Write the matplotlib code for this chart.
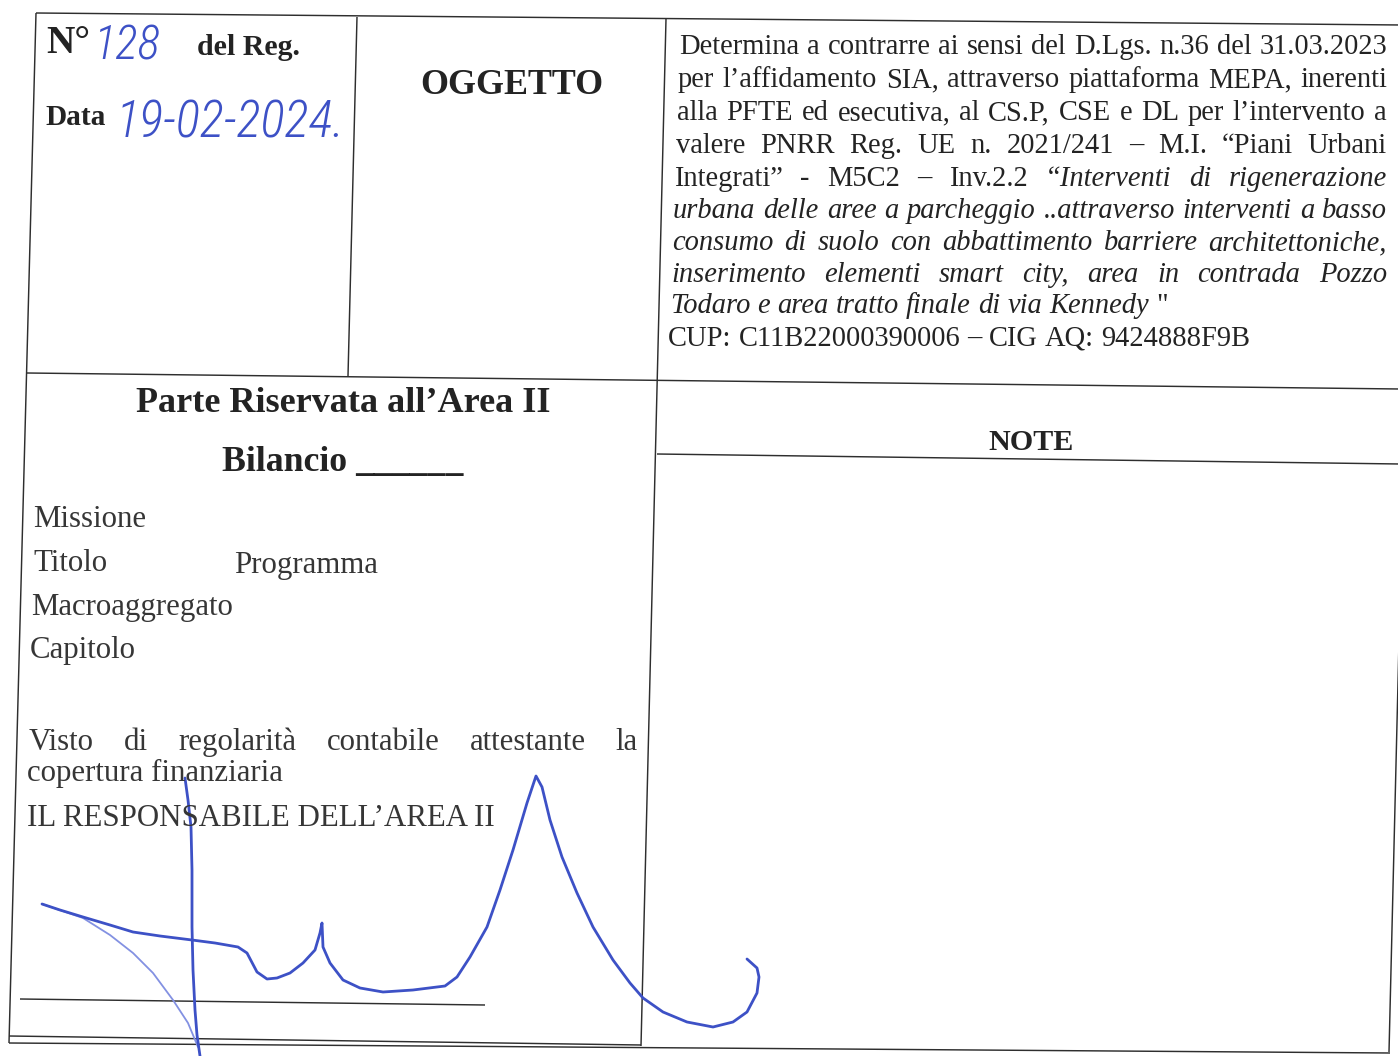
import matplotlib
matplotlib.use("Agg")
import matplotlib.pyplot as plt
from matplotlib import font_manager

W, H = 1398, 1056
SERIF = ["Liberation Serif", "DejaVu Serif"]
INK = "#232323"
SOFT_INK = "#363636"
BLUE = "#3d51c6"
BLUE_LIGHT = "#8391e2"

# ---------------- text content ----------------
num_label = "N°"
num_hand = "128"
reg_label = "del Reg."
date_label = "Data"
date_hand = "19-02-2024."
subject_title = "OGGETTO"

subject_lines = [
    [("Determina a contrarre ai sensi del D.Lgs. n.36 del 31.03.2023", "normal")],
    [("per l’affidamento SIA, attraverso piattaforma MEPA, inerenti", "normal")],
    [("alla PFTE ed esecutiva, al CS.P, CSE e DL per l’intervento a", "normal")],
    [("valere PNRR Reg. UE n. 2021/241 – M.I. “Piani Urbani", "normal")],
    [("Integrati” - M5C2 – Inv.2.2", "normal"), ("“Interventi di rigenerazione", "italic")],
    [("urbana delle aree a parcheggio ..attraverso interventi a basso", "italic")],
    [("consumo di suolo con abbattimento barriere architettoniche,", "italic")],
    [("inserimento elementi smart city, area in contrada Pozzo", "italic")],
    [("Todaro e area tratto finale di via Kennedy", "italic"), ("\"", "normal")],
    [("CUP: C11B22000390006 – CIG AQ: 9424888F9B", "normal")],
]
subject_justified = [True, True, True, True, True, True, True, True, False, False]
subject_x0 = [679, 678, 677, 676, 674, 673, 672, 671, 670, 668]
subject_x1 = 1387
subject_baseline = [54, 87, 120, 153, 186, 218, 250, 282, 313, 346]
subject_ref_width = 580          # width of the CUP line in pixels

area_title = "Parte Riservata all’Area II"
bilancio_label = "Bilancio ______"
note_title = "NOTE"

budget_labels = ["Missione", "Titolo", "Programma", "Macroaggregato", "Capitolo"]
budget_x = [33, 33, 234, 31, 30]
budget_y = [527, 571, 573, 615, 658]

visto_line = "Visto di regolarità contabile attestante la"
visto_cont = "copertura finanziaria"
responsabile = "IL RESPONSABILE DELL’AREA II"

# ---------------- table rules (pixel endpoints) ----------------
rules = [
    ((36, 13), (1402, 25)),     # top border
    ((36, 13), (9, 1043)),      # left border
    ((357, 17), (348, 376)),    # divider N°/OGGETTO
    ((666, 19), (641, 1046)),   # central divider
    ((27, 373), (1400, 389)),   # middle horizontal
    ((657, 454), (1400, 464)),  # NOTE header rule
    ((9, 1036), (641, 1045)),   # bottom rule (inner)
    ((9, 1043), (1390, 1053)),  # bottom rule (outer)
    ((1414, 25), (1389, 1052)), # right border
    ((20, 999), (485, 1005)),   # signature rule
]

# ---------------- signature strokes ----------------
sig_main_x = [42, 60, 83, 110, 133, 160, 192, 215, 238, 247, 257, 267, 277, 290, 303, 315, 320, 322,
              323, 330, 343, 360, 383, 413, 445, 457, 470, 487, 500, 513, 527, 536,
              542, 550, 562, 577, 593, 613, 630, 643, 663, 687, 713, 733, 747, 757, 759, 757, 747]
sig_main_y = [904, 910, 917, 925, 932, 936, 940, 943, 947, 953, 972, 979, 978, 973, 963, 950, 933, 923,
              947, 963, 980, 988, 992, 990, 986, 977, 957, 927, 890, 850, 803, 776,
              787, 820, 857, 893, 927, 960, 983, 998, 1012, 1022, 1027, 1022, 1012, 993, 977, 968, 959]
sig_vert_x = [185, 188, 191, 192, 192, 193, 195, 197, 200]
sig_vert_y = [778, 800, 827, 870, 927, 970, 1010, 1035, 1056]
sig_thin_x = [42, 83, 110, 133, 153, 173, 188, 198]
sig_thin_y = [904, 918, 935, 953, 973, 1000, 1023, 1047]

# ---------------- figure ----------------
fig = plt.figure(figsize=(W / 100, H / 100), dpi=100)
ax = fig.add_axes([0, 0, 1, 1])
ax.set_xlim(0, W)
ax.set_ylim(H, 0)
ax.axis("off")
fig.patch.set_facecolor("white")
R = fig.canvas.get_renderer()


def text_width(s, size, **kw):
    t = ax.text(0, 0, s, fontsize=size, **kw)
    w = t.get_window_extent(renderer=R).width
    t.remove()
    return w


def fit_size(s, width, **kw):
    return 20.0 * width / text_width(s, 20.0, **kw)


names = {f.name for f in font_manager.fontManager.ttflist}
HAND = "DejaVu Sans"
for fam in ["Roboto Condensed", "Roboto", "Open Sans", "DejaVu Sans"]:
    if fam in names:
        HAND = fam
        break
hand_kw = dict(family=HAND, style="italic", weight="light")

# rules
for (x0, y0), (x1, y1) in rules:
    ax.plot([x0, x1], [y0, y1], color="#2e2e2e", lw=1.05, solid_capstyle="butt")

# --- top-left cell ---
bold = dict(family=SERIF, weight="bold", color=INK)
s = fit_size(num_label, 44, **bold)
ax.text(46, 53, num_label, fontsize=s, va="baseline", **bold)
s = fit_size(reg_label, 103, **bold)
ax.text(197, 55, reg_label, fontsize=s, va="baseline", **bold)
s = fit_size(date_label, 60, **bold)
ax.text(45, 125, date_label, fontsize=s, va="baseline", **bold)

s = fit_size(num_hand, 67, **hand_kw)
ax.text(93, 59, num_hand, fontsize=s, va="baseline", color=BLUE, **hand_kw)
s = fit_size(date_hand, 230, **hand_kw)
ax.text(116, 137, date_hand, fontsize=s, va="baseline", color=BLUE, **hand_kw)

# --- OGGETTO ---
s = fit_size(subject_title, 183, **bold)
ax.text(420, 94, subject_title, fontsize=s, va="baseline", **bold)

# --- subject paragraph ---
para_size = fit_size(subject_lines[-1][0][0], subject_ref_width, family=SERIF)
space_px = 0.25 * para_size * 100 / 72


def put_line(segments, x0, x1, y, size, justify, color):
    words = []
    for txt, st in segments:
        for w in txt.split(" "):
            if w:
                words.append((w, st))
    widths = [text_width(w, size, family=SERIF, style=st) for w, st in words]
    if justify and len(words) > 1:
        gap = (x1 - x0 - sum(widths)) / (len(words) - 1)
    else:
        gap = space_px
    x = x0
    for (w, st), wd in zip(words, widths):
        ax.text(x, y, w, fontsize=size, family=SERIF, style=st, color=color, va="baseline")
        x += wd + gap


for segs, just, x0, y in zip(subject_lines, subject_justified, subject_x0, subject_baseline):
    put_line(segs, x0, subject_x1, y, para_size, just, INK)

# --- lower left ---
s = fit_size(area_title, 413, **bold)
ax.text(136, 412, area_title, fontsize=s, va="baseline", **bold)
s = fit_size(bilancio_label, 240, **bold)
ax.text(222, 471, bilancio_label, fontsize=s, va="baseline", **bold)

list_size = fit_size("Macroaggregato", 202, family=SERIF)
for lab, x, y in zip(budget_labels, budget_x, budget_y):
    ax.text(x, y, lab, fontsize=list_size, family=SERIF, color=SOFT_INK, va="baseline")

put_line([(visto_line, "normal")], 29, 638, 750, list_size, True, SOFT_INK)
ax.text(27, 781, visto_cont, fontsize=list_size, family=SERIF, color=SOFT_INK, va="baseline")
ax.text(27, 826, responsabile, fontsize=list_size, family=SERIF, color=SOFT_INK, va="baseline")

# --- NOTE ---
s = fit_size(note_title, 85, **bold)
ax.text(988, 450, note_title, fontsize=s, va="baseline", **bold)

# --- signature ---
ax.plot(sig_thin_x, sig_thin_y, color=BLUE_LIGHT, lw=1.3, solid_capstyle="round", solid_joinstyle="round")
ax.plot(sig_main_x, sig_main_y, color=BLUE, lw=2.0, solid_capstyle="round", solid_joinstyle="round")
ax.plot(sig_vert_x, sig_vert_y, color=BLUE, lw=2.0, solid_capstyle="round", solid_joinstyle="round")

fig.savefig("out.png", dpi=100, facecolor="white")
